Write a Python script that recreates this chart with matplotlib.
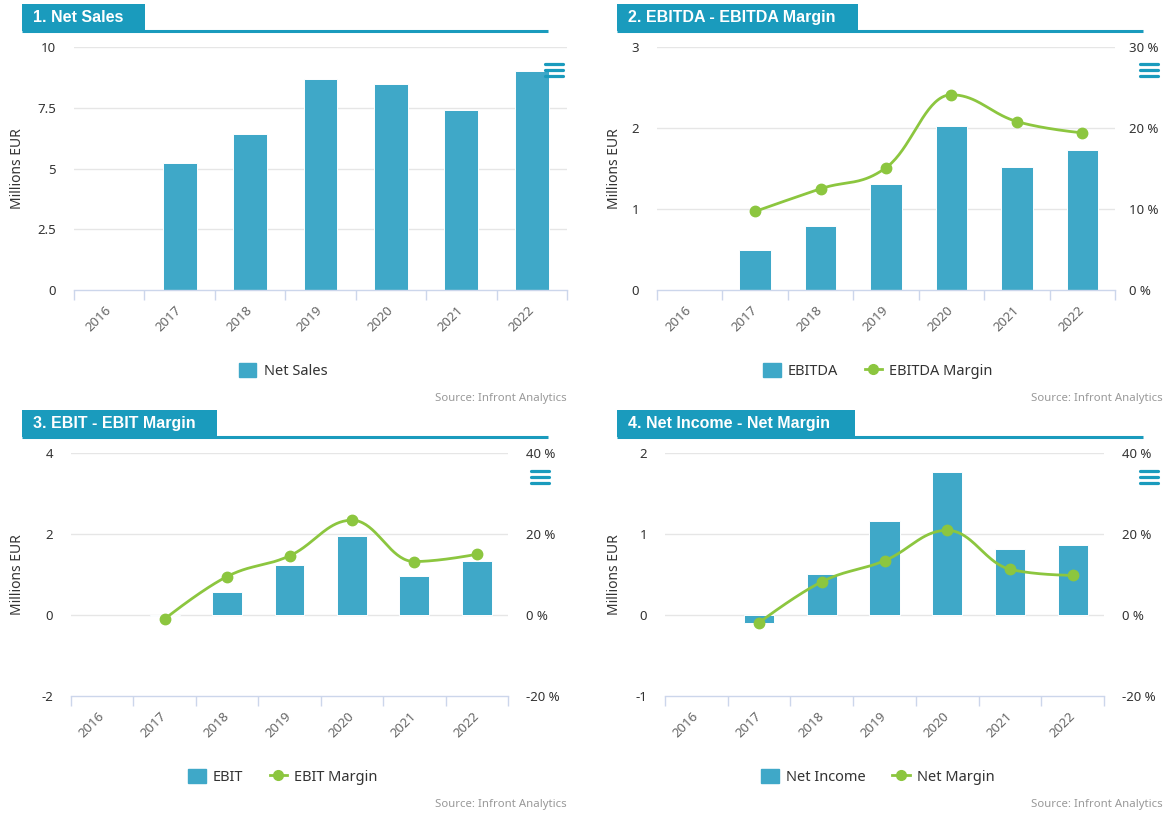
import numpy as np
import matplotlib
matplotlib.use('Agg')
import matplotlib.pyplot as plt
from matplotlib.patches import Rectangle
from matplotlib.lines import Line2D

# ---------------- data ----------------
years = ['2016', '2017', '2018', '2019', '2020', '2021', '2022']
net_sales = [np.nan, 5.23, 6.42, 8.68, 8.48, 7.41, 9.01]
ebitda = [np.nan, 0.50, 0.79, 1.31, 2.02, 1.52, 1.73]
ebitda_margin = [np.nan, 9.7, 12.5, 15.1, 24.1, 20.8, 19.4]
ebit = [np.nan, -0.03, 0.56, 1.24, 1.95, 0.97, 1.34]
ebit_margin = [np.nan, -1.0, 9.5, 14.6, 23.4, 13.2, 15.0]
net_income = [np.nan, -0.10, 0.51, 1.16, 1.76, 0.82, 0.87]
net_margin = [np.nan, -1.9, 8.2, 13.4, 20.9, 11.3, 9.8]

titles = ['1. Net Sales', '2. EBITDA - EBITDA Margin', '3. EBIT - EBIT Margin', '4. Net Income - Net Margin']
bar_names = ['Net Sales', 'EBITDA', 'EBIT', 'Net Income']
line_names = [None, 'EBITDA Margin', 'EBIT Margin', 'Net Margin']

# ---------------- style ----------------
W, H = 1167, 814
BAR = '#3fa8c8'
GREEN = '#8cc63f'
TEAL = '#1a9bbd'
GRID = '#e6e6e6'
AXIS = '#ccd6eb'
plt.rcParams['font.family'] = ['Noto Sans', 'DejaVu Sans']

fig = plt.figure(figsize=(W / 100, H / 100), dpi=100)
fig.patch.set_facecolor('white')


def axrect(l, t, r, b):
    return [l / W, 1 - b / H, (r - l) / W, (b - t) / H]


def hc_spline(xs, ys, smoothing=1.5, n=40):
    N = len(xs)
    lc = [(xs[i], ys[i]) for i in range(N)]
    rc = [(xs[i], ys[i]) for i in range(N)]
    d = smoothing + 1
    for i in range(1, N - 1):
        x, y = xs[i], ys[i]
        lx, ly = xs[i - 1], ys[i - 1]
        nx, ny = xs[i + 1], ys[i + 1]
        lcx = (smoothing * x + lx) / d
        lcy = (smoothing * y + ly) / d
        rcx = (smoothing * x + nx) / d
        rcy = (smoothing * y + ny) / d
        if rcx != lcx:
            corr = (rcy - lcy) * (rcx - x) / (rcx - lcx) + y - rcy
            lcy += corr
            rcy += corr
            if lcy > ly and lcy > y:
                lcy = max(ly, y); rcy = 2 * y - lcy
            elif lcy < ly and lcy < y:
                lcy = min(ly, y); rcy = 2 * y - lcy
            if rcy > ny and rcy > y:
                rcy = max(ny, y); lcy = 2 * y - rcy
            elif rcy < ny and rcy < y:
                rcy = min(ny, y); lcy = 2 * y - rcy
        lc[i] = (lcx, lcy)
        rc[i] = (rcx, rcy)
    t = np.linspace(0, 1, n)
    X, Y = [], []
    for i in range(N - 1):
        p0 = np.array([xs[i], ys[i]])
        p1 = np.array(rc[i])
        p2 = np.array(lc[i + 1])
        p3 = np.array([xs[i + 1], ys[i + 1]])
        pts = ((1 - t) ** 3)[:, None] * p0 + (3 * (1 - t) ** 2 * t)[:, None] * p1 + \
              (3 * (1 - t) * t ** 2)[:, None] * p2 + (t ** 3)[:, None] * p3
        X.extend(pts[:, 0]); Y.extend(pts[:, 1])
    return np.array(X), np.array(Y)


panels = [
    dict(rect=(74, 47, 567, 290), bars=net_sales, line=None, ylim=(0, 10),
         yticks=[0, 2.5, 5, 7.5, 10], ylabels=['0', '2.5', '5', '7.5', '10'], r=None),
    dict(rect=(657, 47, 1115, 290), bars=ebitda, line=ebitda_margin, ylim=(0, 3),
         yticks=[0, 1, 2, 3], ylabels=['0', '1', '2', '3'], r=((0, 30), [0, 10, 20, 30])),
    dict(rect=(71, 453, 508, 696), bars=ebit, line=ebit_margin, ylim=(-2, 4),
         yticks=[-2, 0, 2, 4], ylabels=['-2', '0', '2', '4'], r=((-20, 40), [-20, 0, 20, 40])),
    dict(rect=(665, 453, 1104, 696), bars=net_income, line=net_margin, ylim=(-1, 2),
         yticks=[-1, 0, 1, 2], ylabels=['-1', '0', '1', '2'], r=((-20, 40), [-20, 0, 20, 40])),
]

x = np.arange(len(years))
for k, p in enumerate(panels):
    ax = fig.add_axes(axrect(*p['rect']))
    ax.set_xlim(-0.5, len(years) - 0.5)
    ax.set_ylim(*p['ylim'])
    ax.set_yticks(p['yticks'])
    ax.set_yticklabels(p['ylabels'])
    for yv in p['yticks'][1:]:
        ax.axhline(yv, color=GRID, lw=1, zorder=0)
    ax.bar(x, p['bars'], width=0.48, color=BAR, edgecolor='white', linewidth=0.7, zorder=2)
    for s in ['top', 'left', 'right']:
        ax.spines[s].set_visible(False)
    ax.spines['bottom'].set_color(AXIS)
    ax.spines['bottom'].set_linewidth(1)
    ax.set_xticks(x)
    ax.set_xticklabels(years, rotation=45, ha='right', va='center', rotation_mode='anchor',
                       color='#666666', fontsize=9.5)
    ax.set_xticks(np.arange(-0.5, len(years), 1.0), minor=True)
    ax.tick_params(axis='x', which='major', length=0, pad=13)
    ax.tick_params(axis='x', which='minor', length=7.5, color=AXIS, width=1)
    ax.tick_params(axis='y', length=0, pad=13, labelsize=9.5, labelcolor='#333333')
    ax.set_ylabel('Millions EUR', fontsize=10, color='#333333')
    lx = 25 if k % 2 == 0 else 622
    ax.yaxis.set_label_coords((lx - p['rect'][0]) / (p['rect'][2] - p['rect'][0]), 0.5)
    handles = [Rectangle((0, 0), 1, 1, color=BAR)]
    labels = [bar_names[k]]
    if p['line'] is not None:
        ax2 = ax.twinx()
        ax2.set_ylim(*p['r'][0])
        ax2.set_yticks(p['r'][1])
        ax2.set_yticklabels([f'{v} %' for v in p['r'][1]])
        ax2.tick_params(axis='y', length=0, pad=10 if k == 1 else 13, labelsize=9.5, labelcolor='#333333')
        for s in ax2.spines.values():
            s.set_visible(False)
        vals = np.array(p['line'], dtype=float)
        m = ~np.isnan(vals)
        sx, sy = hc_spline(list(x[m].astype(float)), list(vals[m]))
        ax2.plot(sx, sy, color=GREEN, lw=2, zorder=3, solid_capstyle='round')
        ax2.plot(x[m], vals[m], 'o', color=GREEN, ms=7.5, zorder=4)
        handles.append(Line2D([], [], color=GREEN, lw=2, marker='o', ms=7))
        labels.append(line_names[k])
    cx = 283 if k % 2 == 0 else 878
    cy = 371 if k < 2 else 777
    fig.legend(handles, labels, loc='center', bbox_to_anchor=(cx / W, 1 - cy / H), ncol=2,
               frameon=False, fontsize=10.5, handlelength=1.2, handleheight=1.1,
               columnspacing=1.8, handletextpad=0.5, labelcolor='#333333')

# ---------------- decorations (pixel overlay) ----------------
ov = fig.add_axes([0, 0, 1, 1], zorder=10)
ov.set_xlim(0, W)
ov.set_ylim(H, 0)
ov.axis('off')
ov.patch.set_alpha(0)

boxes = [(22, 4, 145, 31, 548), (617, 4, 858, 31, 1143), (22, 410, 217, 437, 548), (617, 410, 855, 437, 1143)]
for (l, t, r, b, le), title in zip(boxes, titles):
    ov.add_patch(Rectangle((l, t), r - l, b - t, color=TEAL, lw=0))
    ov.plot([l, le], [b, b], color=TEAL, lw=2.2, solid_capstyle='butt')
    ov.text(l + 11, (t + b) / 2, title, color='white', fontsize=11.5, fontweight='bold',
            ha='left', va='center', family=['Liberation Sans Narrow', 'Liberation Sans', 'DejaVu Sans'])

menus = [(545, 64), (1140, 64), (531, 471), (1140, 471)]
for mx, my in menus:
    for j in range(3):
        ov.plot([mx, mx + 18], [my + 6 * j, my + 6 * j], color=TEAL, lw=2.3, solid_capstyle='round')

sources = [(567, 398), (1163, 398), (567, 805), (1163, 805)]
for sx_, sy_ in sources:
    ov.text(sx_, sy_, 'Source: Infront Analytics', color='#999999', fontsize=8.2, ha='right', va='center')

fig.savefig('out.png', dpi=100, facecolor='white')
